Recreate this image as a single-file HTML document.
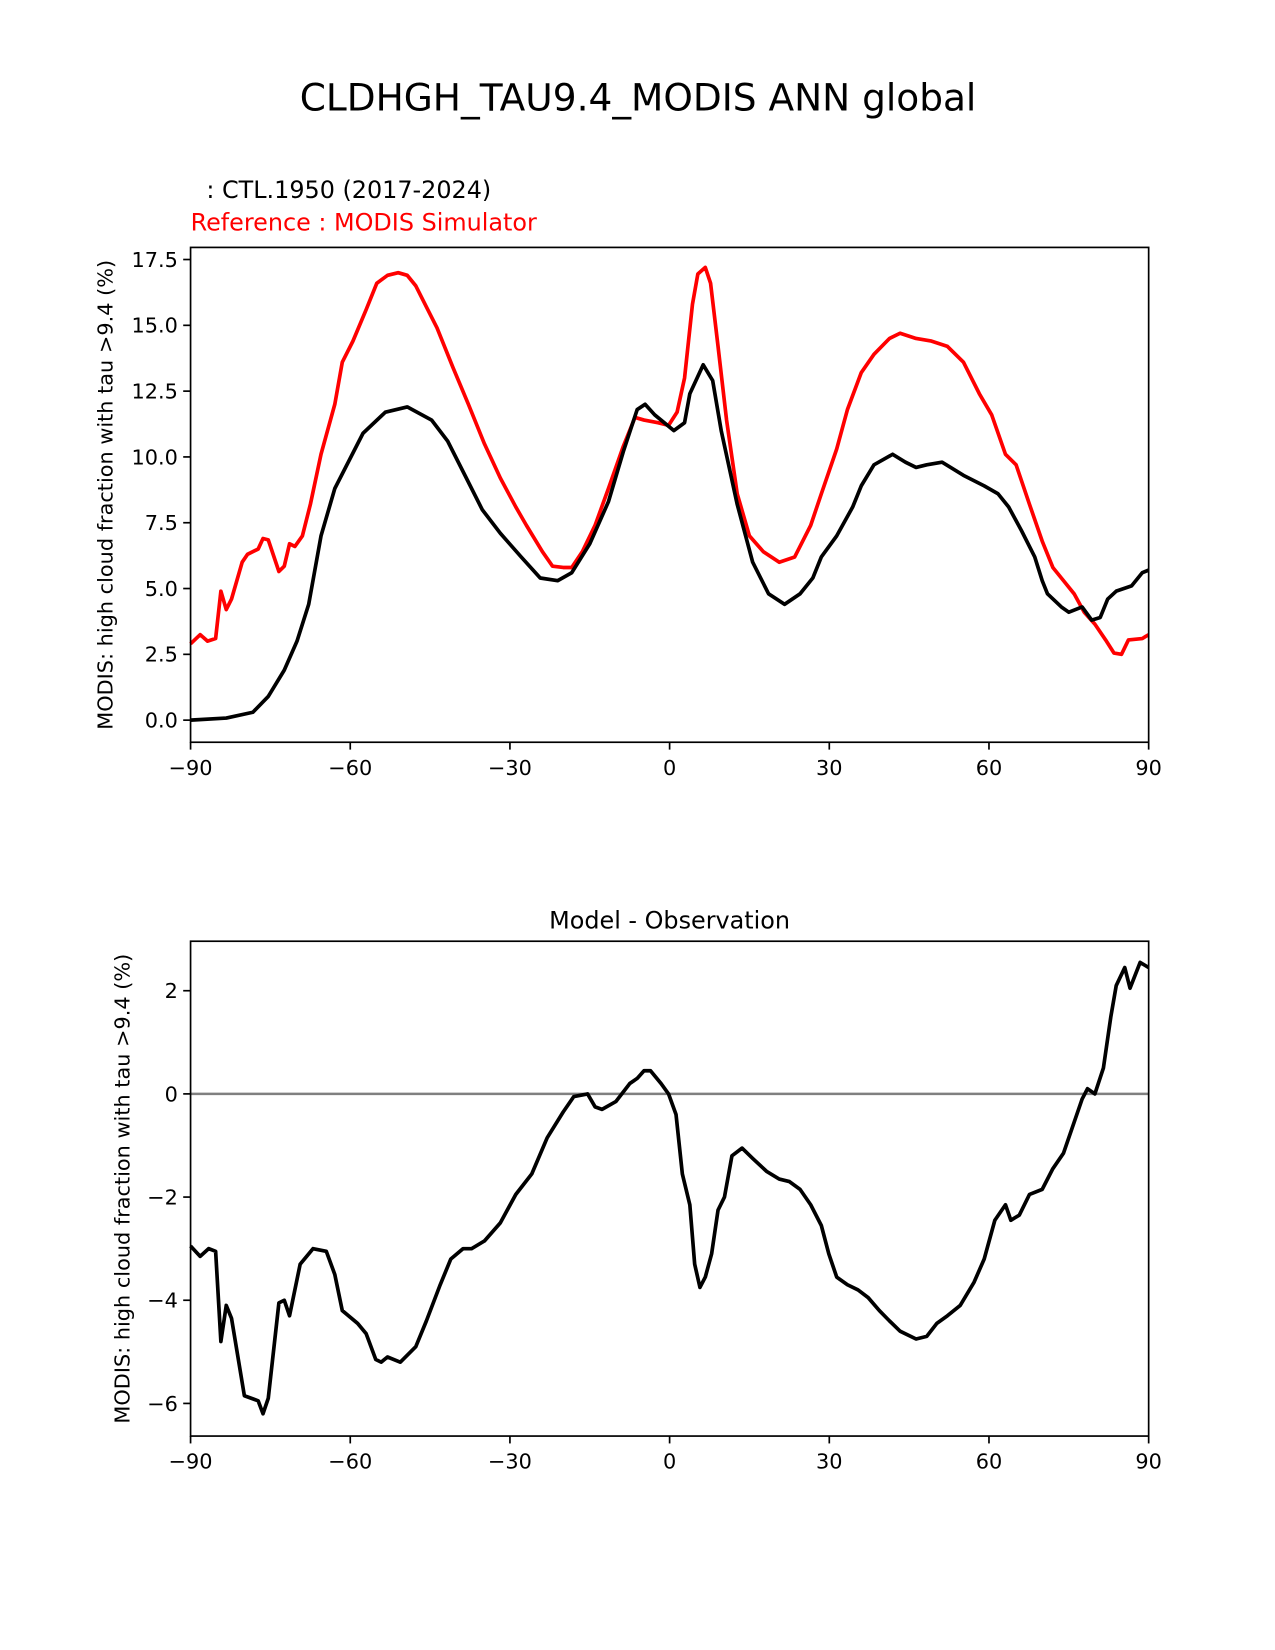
<!DOCTYPE html>
<html><head><meta charset="utf-8"><style>
html,body{margin:0;padding:0;background:#fff;}
svg{display:block;font-family:"DejaVu Sans","Liberation Sans",sans-serif;}
</style></head><body>
<svg id="fig" width="1275" height="1650" viewBox="0 0 1211 1567.2" preserveAspectRatio="none" xmlns="http://www.w3.org/2000/svg">
<rect width="1211" height="1567.2" fill="#fff"/>
<text x="606" y="105" font-size="35.6" text-anchor="middle">CLDHGH_TAU9.4_MODIS ANN global</text>
<text x="196" y="188" font-size="22.7">: CTL.1950 (2017-2024)</text>
<text x="181" y="219" font-size="22.7" fill="#ff0000">Reference : MODIS Simulator</text>
<text x="636" y="882" font-size="22.7" text-anchor="middle">Model - Observation</text>
<g id="top"></g>
<g id="bot"></g>
</svg>
<script>
const xTicks = [-90,-60,-30,0,30,60,90];
const topYTicks = [0,2.5,5,7.5,10,12.5,15,17.5];
const botYTicks = [-6,-4,-2,0,2];
const testLat = [-90,-83.3,-78.3,-75.4,-72.4,-70,-67.8,-65.5,-62.9,-57.6,-53.4,-49.3,-44.7,-41.7,-38.2,-35.2,-31.8,-27.9,-24.3,-21,-18.4,-15,-11.5,-8.7,-6.1,-4.6,-2.8,0.8,2.8,3.8,6.3,8.1,9.7,12.7,15.6,18.6,21.6,24.5,26.9,28.5,31.4,34.4,36,38.4,41.9,44.3,46.3,48.3,51.2,55.2,59.1,61.7,63.7,66.1,68.6,70,71,73.6,75,77.5,79.3,80.9,82.3,83.9,86.8,88.8,90];
const testVal = [0,0.08,0.3,0.9,1.9,3.0,4.4,7.0,8.8,10.9,11.7,11.9,11.4,10.6,9.2,8.0,7.1,6.2,5.4,5.3,5.6,6.7,8.3,10.2,11.8,12.0,11.6,11.0,11.3,12.4,13.5,12.9,11.0,8.2,6.0,4.8,4.4,4.8,5.4,6.2,7.0,8.1,8.9,9.7,10.1,9.8,9.6,9.7,9.8,9.3,8.9,8.6,8.1,7.2,6.2,5.3,4.8,4.3,4.1,4.3,3.8,3.9,4.6,4.9,5.1,5.6,5.7];
const refLat = [-90,-88.2,-86.8,-85.3,-84.3,-83.3,-82.3,-80.3,-79.3,-77.3,-76.4,-75.4,-73.4,-72.4,-71.4,-70.4,-69,-67.5,-65.5,-62.9,-61.5,-59.5,-57,-55,-53,-51,-49.3,-47.7,-45.7,-43.7,-40.7,-37.8,-34.8,-31.8,-28.9,-26.9,-23.9,-22,-20,-18.4,-16.4,-14,-11.5,-8.7,-6.5,-4.8,-2.2,-0.2,1.4,2.8,4.3,5.3,6.7,7.7,9.1,10.7,12.7,15,17.6,20.6,23.5,26.5,28.5,31.4,33.4,36,38.4,41.3,43.3,46.3,49.2,52.2,55.2,58.2,60.5,63.1,65.1,67.6,70,72,74,76,77.9,79.9,81.9,83.5,84.9,86.2,88.8,90];
const refVal = [2.9,3.25,3.0,3.1,4.9,4.2,4.6,6.0,6.3,6.5,6.9,6.85,5.65,5.85,6.7,6.6,7.0,8.2,10.1,12.0,13.6,14.4,15.6,16.6,16.9,17.0,16.9,16.5,15.7,14.9,13.4,12.0,10.5,9.2,8.1,7.4,6.4,5.85,5.8,5.8,6.4,7.4,8.8,10.4,11.5,11.4,11.3,11.2,11.7,13.0,15.8,16.95,17.2,16.6,14.2,11.4,8.6,7.0,6.4,6.0,6.2,7.4,8.6,10.3,11.8,13.2,13.9,14.5,14.7,14.5,14.4,14.2,13.6,12.4,11.6,10.1,9.7,8.2,6.8,5.8,5.3,4.8,4.1,3.65,3.05,2.55,2.5,3.05,3.1,3.25];
const diffLat = [-90,-88.2,-86.6,-85.3,-84.3,-83.3,-82.3,-79.9,-77.3,-76.4,-75.4,-73.4,-72.4,-71.4,-69.4,-67,-64.5,-62.9,-61.5,-58.6,-57,-55.2,-54.2,-53,-50.6,-47.7,-45.7,-43.1,-41.1,-38.8,-37.2,-34.8,-31.8,-28.9,-25.9,-23,-20,-18,-15.4,-14,-12.7,-10.1,-7.5,-6.1,-4.8,-3.6,-1.6,-0.2,1.2,2.4,3.8,4.7,5.7,6.7,7.9,9.1,10.3,11.7,13.6,15.6,18.2,20.6,22.5,24.5,26.5,28.5,29.9,31.4,33.4,35.4,37.3,39.4,41.3,43.3,46.3,48.3,50.2,52.2,54.6,57.2,59.1,61.1,63.1,64.1,65.7,67.6,70,72,74,76,77.5,78.5,79.9,81.5,82.9,83.9,85.5,86.5,88.4,90];
const diffVal = [-2.95,-3.15,-3.0,-3.05,-4.8,-4.1,-4.35,-5.85,-5.95,-6.2,-5.9,-4.05,-4.0,-4.3,-3.3,-3.0,-3.05,-3.5,-4.2,-4.45,-4.65,-5.15,-5.2,-5.1,-5.2,-4.9,-4.4,-3.7,-3.2,-3.0,-3.0,-2.85,-2.5,-1.95,-1.55,-0.85,-0.35,-0.05,0,-0.25,-0.3,-0.15,0.2,0.3,0.45,0.45,0.2,0,-0.4,-1.55,-2.15,-3.3,-3.75,-3.55,-3.1,-2.25,-2.0,-1.2,-1.05,-1.25,-1.5,-1.65,-1.7,-1.85,-2.15,-2.55,-3.1,-3.55,-3.7,-3.8,-3.95,-4.2,-4.4,-4.6,-4.75,-4.7,-4.45,-4.3,-4.1,-3.65,-3.2,-2.45,-2.15,-2.45,-2.35,-1.95,-1.85,-1.45,-1.15,-0.55,-0.1,0.1,0.0,0.5,1.5,2.1,2.45,2.05,2.55,2.45];

const NS="http://www.w3.org/2000/svg";
function mk(parent,tag,attrs){const e=document.createElementNS(NS,tag);for(const k in attrs)e.setAttribute(k,attrs[k]);parent.appendChild(e);return e;}
const X0=181,X1=1091;
const xs=v=>X0+(v+90)/180*(X1-X0);

function axes(g,top,bot,ymin,ymax,yticks,fmt,ylabel,ylx,prefix){
  const ys=v=>bot-(v-ymin)/(ymax-ymin)*(bot-top);
  xTicks.forEach(t=>{
    const l=mk(g,'line',{x1:xs(t),x2:xs(t),y1:bot,y2:bot+7,stroke:'#000','stroke-width':1.6});
    
    
    const tx=mk(g,'text',{x:xs(t),y:bot+31,'font-size':19.8,'text-anchor':'middle'});
    tx.textContent=(t<0?'\u2212'+(-t):t);
    
    
  });
  yticks.forEach(t=>{
    const l=mk(g,'line',{x1:X0-7,x2:X0,y1:ys(t),y2:ys(t),stroke:'#000','stroke-width':1.6});
    
    
    const tx=mk(g,'text',{x:X0-12,y:ys(t)+7,'font-size':19.8,'text-anchor':'end'});
    tx.textContent=fmt(t);
    
    
  });
  const yl=mk(g,'text',{x:0,y:0,'font-size':19.8,'text-anchor':'middle',transform:`translate(${ylx},${(top+bot)/2}) rotate(-90)`});
  yl.textContent=ylabel;
  
  
  return ys;
}
function line(g,lat,val,ys,color,name){
  const d=lat.map((a,i)=>(i?'L':'M')+xs(a).toFixed(1)+','+ys(val[i]).toFixed(1)).join('');
  const p=mk(g,'path',{d:d,fill:'none',stroke:color,'stroke-width':3.5,'stroke-linejoin':'round'});
  
  
}
function frame(g,top,bot,prefix){
  const r=mk(g,'rect',{x:X0,y:top,width:X1-X0,height:bot-top,fill:'none',stroke:'#000','stroke-width':1.6});
  
  
}
const label='MODIS: high cloud fraction with tau >9.4 (%)';
const gt=document.getElementById('top');
const ysT=axes(gt,235,705,(684-705)/25.0,(684-235)/25.0,topYTicks,t=>t.toFixed(1),label,107,'top');
line(gt,refLat,refVal,ysT,'#ff0000','reference-line');
line(gt,testLat,testVal,ysT,'#000000','test-line');
frame(gt,235,705,'top');
const gb=document.getElementById('bot');
const ysB=axes(gb,894,1364,(1039-1364)/49,(1039-894)/49,botYTicks,t=>t<0?'\u2212'+(-t):String(t),label,123,'diff');
const z=mk(gb,'line',{x1:X0,x2:X1,y1:ysB(0),y2:ysB(0),stroke:'#808080','stroke-width':2.4});


line(gb,diffLat,diffVal,ysB,'#000000','difference-line');
frame(gb,894,1364,'diff');
</script>
</body></html>
